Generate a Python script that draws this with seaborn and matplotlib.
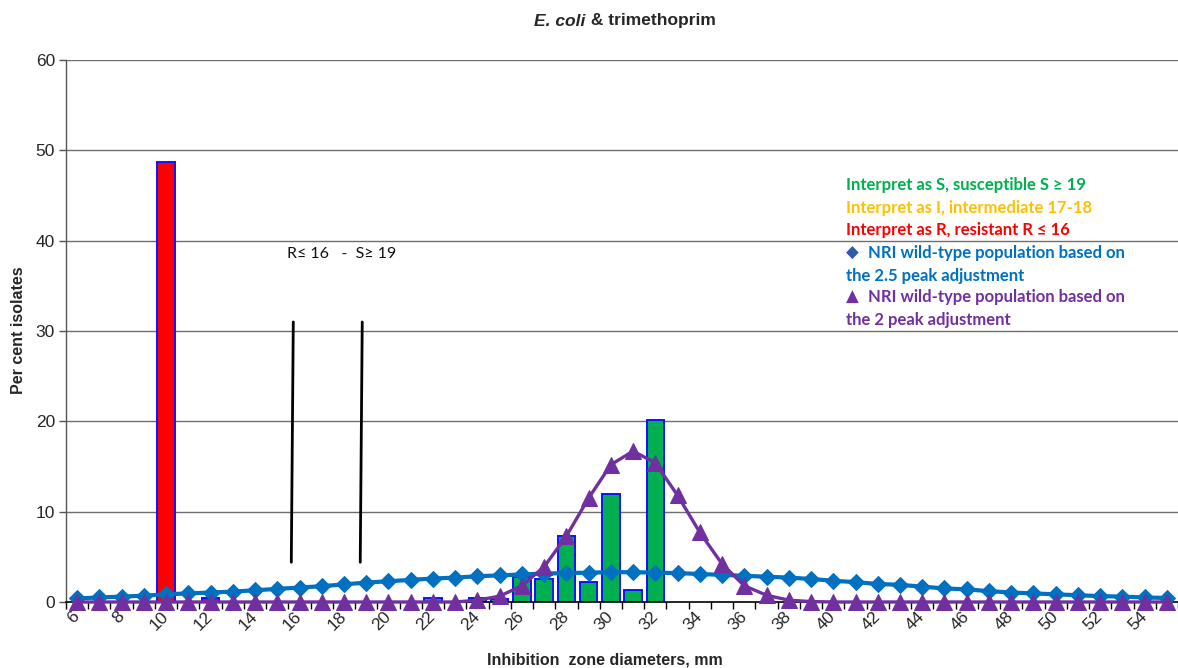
import numpy as np
import pandas as pd
import matplotlib
matplotlib.use("Agg")
import matplotlib.pyplot as plt
import seaborn as sns

# ---------------- data ----------------
zones = list(range(6, 56))

bar_zones = [10, 12, 14, 16, 19, 20, 22, 24, 25, 26, 27, 28, 29, 30, 31, 32]
bar_pct = [48.7, 0.4, 0.05, 0.05, 0.05, 0.05, 0.45, 0.4, 0.35, 2.8, 2.55, 7.3, 2.2, 12.0, 1.3, 20.2]

nri_25 = [0.4, 0.5, 0.6, 0.7, 0.85, 0.95, 1.05, 1.15, 1.3, 1.45, 1.6, 1.75, 1.95, 2.15,
          2.3, 2.45, 2.6, 2.7, 2.85, 2.95, 3.05, 3.15, 3.2, 3.25, 3.3, 3.3, 3.25, 3.2,
          3.1, 3.0, 2.9, 2.8, 2.7, 2.55, 2.35, 2.2, 2.0, 1.9, 1.7, 1.5, 1.4, 1.2, 1.05,
          0.95, 0.85, 0.75, 0.65, 0.6, 0.5, 0.45]

nri_2 = [0, 0, 0, 0, 0, 0, 0, 0, 0, 0, 0, 0, 0, 0, 0, 0, 0, 0, 0.2, 0.65, 1.8, 3.9,
         7.3, 11.5, 15.2, 16.7, 15.4, 11.8, 7.7, 4.2, 1.8, 0.75, 0.2, 0.05, 0, 0, 0, 0,
         0, 0, 0, 0, 0, 0, 0, 0, 0, 0, 0, 0]

x_ticklabels = [str(z) if z % 2 == 0 else "" for z in zones]

legend_lines = [
    ("Interpret as S, susceptible S \u2265 19", "#00B050"),
    ("Interpret as I, intermediate 17-18", "#FFC000"),
    ("Interpret as R, resistant R \u2264 16", "#FF0000"),
]

# ---------------- styling ----------------
C_RED = "#FF0000"
C_YEL = "#FFC000"
C_GRN = "#00B050"
C_BLUE = "#0070C0"
C_PURP = "#7030A0"

sns.set_theme(style="white")
plt.rcParams["font.family"] = ["Liberation Sans", "DejaVu Sans"]

fig = plt.figure(figsize=(11.78, 6.68), dpi=100)
ax = fig.add_axes([66 / 1178, 1 - 602 / 668, 1 - 66 / 1178, (602 - 60) / 668])

def cls(z):
    if z <= 16:
        return "R"
    if z <= 18:
        return "I"
    return "S"

bars = pd.DataFrame({"zone": bar_zones, "pct": bar_pct})
bars["cls"] = [cls(z) for z in bar_zones]
lines = pd.DataFrame({"zone": zones, "nri25": nri_25, "nri2": nri_2})

# grid
ax.set_ylim(0, 60)
ax.set_xlim(5.5, 55.5)
ax.set_yticks(range(0, 61, 10))
for yv in range(10, 61, 10):
    ax.axhline(yv, color="#6e6e6e", lw=1.0, zorder=0)

sns.barplot(data=bars, x="zone", y="pct", hue="cls", native_scale=True,
            palette={"R": C_RED, "I": C_YEL, "S": C_GRN}, dodge=False, saturation=1,
            width=0.78, edgecolor="#1010FF", linewidth=1.4, legend=False,
            ax=ax, zorder=2)

sns.lineplot(data=lines, x="zone", y="nri25", color=C_BLUE, lw=3.0, marker="D",
             markersize=8.5, markeredgecolor=C_BLUE, ax=ax, zorder=3, clip_on=False)
sns.lineplot(data=lines, x="zone", y="nri2", color=C_PURP, lw=2.4, marker="^",
             markersize=11, markeredgecolor=C_PURP, ax=ax, zorder=4, clip_on=False)

# breakpoint lines (hand drawn in the original)
ax.plot([15.72, 15.63], [31.0, 4.4], color="black", lw=2.0, zorder=5)
ax.plot([18.82, 18.73], [31.0, 4.4], color="black", lw=2.0, zorder=5)
ax.text(15.45, 38.5, "R\u2264 16   -  S\u2265 19", fontsize=11.5, va="center", ha="left",
        family=["Lato", "DejaVu Sans"], color="#111111", zorder=6)

# axes
for s in ["top", "right"]:
    ax.spines[s].set_visible(False)
ax.spines["left"].set_color("#555555")
ax.spines["bottom"].set_color("black")
ax.spines["left"].set_linewidth(1.0)
ax.spines["bottom"].set_linewidth(1.2)

ax.set_xticks(zones)
ax.set_xticklabels(x_ticklabels, rotation=45, ha="right", va="center",
                   rotation_mode="anchor", fontsize=12.5)
ax.set_xticks(np.arange(5.5, 56, 1), minor=True)
ax.tick_params(axis="x", which="major", length=0, pad=9)
ax.tick_params(axis="x", which="minor", length=5, width=1, color="black", direction="out",
               bottom=True)
ax.tick_params(axis="y", length=5, width=1, color="#555555", direction="out", left=True,
               labelsize=12.5, pad=3)
ax.set_xlabel("Inhibition  zone diameters, mm", fontsize=11.5, fontweight="bold")
ax.xaxis.set_label_coords((605 - 66) / (1178 - 66), -(660 - 602) / (602 - 60))
ax.set_ylabel("Per cent isolates", fontsize=11.5, fontweight="bold")
ax.yaxis.set_label_coords(-(66 - 19) / (1178 - 66), (602 - 330) / (602 - 60))
ax.xaxis.label.set_va("center")
ax.yaxis.label.set_va("center")

# title with italic species name
fig.canvas.draw()
r = fig.canvas.get_renderer()
t1 = fig.text(0, 1 - 21 / 668, "E. coli", fontsize=12.5, fontweight="bold", style="italic",
              va="center", ha="left")
t2 = fig.text(0, 1 - 21 / 668, " & trimethoprim", fontsize=12.5, fontweight="bold",
              va="center", ha="left")
w1 = t1.get_window_extent(r).width
w2 = t2.get_window_extent(r).width
x0 = 625 - (w1 + w2) / 2
t1.set_x(x0 / 1178)
t2.set_x((x0 + w1) / 1178)

# legend-like text block
LF = 12
LFAM = ["Lato", "DejaVu Sans"]
lx = 846 / 1178
for i, (txt, col) in enumerate(legend_lines):
    fig.text(lx, 1 - (185 + 22.6 * i) / 668, txt, color=col, fontsize=LF, fontweight="bold",
             family=LFAM, va="center", ha="left")
fig.text(lx, 1 - 253 / 668, "\u25C6", color="#2E5CA8", fontsize=LF,
         family=["DejaVu Sans"], va="center", ha="left")
fig.text(868 / 1178, 1 - 253 / 668, "NRI wild-type population based on", color=C_BLUE,
         fontsize=LF, fontweight="bold", family=LFAM, va="center", ha="left")
fig.text(lx, 1 - 275.5 / 668, "the 2.5 peak adjustment", color=C_BLUE,
         fontsize=LF, fontweight="bold", family=LFAM, va="center", ha="left")
fig.text(lx, 1 - 297 / 668, "\u25B2", color=C_PURP, fontsize=LF,
         family=["DejaVu Sans"], va="center", ha="left")
fig.text(868 / 1178, 1 - 297 / 668, "NRI wild-type population based on", color=C_PURP,
         fontsize=LF, fontweight="bold", family=LFAM, va="center", ha="left")
fig.text(lx, 1 - 320 / 668, "the 2 peak adjustment", color=C_PURP,
         fontsize=LF, fontweight="bold", family=LFAM, va="center", ha="left")

fig.savefig("out.png", dpi=100)
